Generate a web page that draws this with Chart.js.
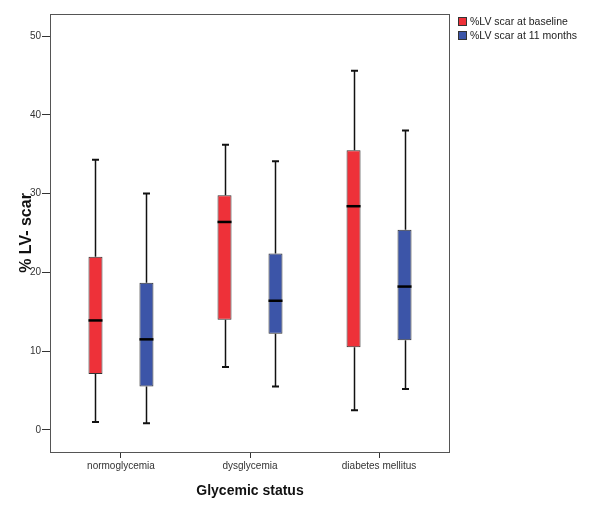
<!DOCTYPE html>
<html lang="en">
<head>
<meta charset="UTF-8">
<title>%LV scar by glycemic status</title>
<script src="https://cdn.jsdelivr.net/npm/chart.js"></script>
<style>
  html, body { margin: 0; padding: 0; background: #fff; }
</style>
</head>
<body>
<canvas id="boxChart" width="600" height="520"></canvas>
<script>
// categories and series
const groups = ['normoglycemia', 'dysglycemia', 'diabetes mellitus'];
const seriesNames = ['%LV scar at baseline', '%LV scar at 11 months'];

// five-number summaries
const baseMin = [1.0, 8.0, 2.5];
const baseQ1 = [7.1, 14.0, 10.5];
const baseMed = [13.9, 26.4, 28.4];
const baseQ3 = [22.0, 29.8, 35.5];
const baseMax = [34.3, 36.2, 45.6];

const monthMin = [0.85, 5.5, 5.2];
const monthQ1 = [5.5, 12.2, 11.4];
const monthMed = [11.5, 16.4, 18.2];
const monthQ3 = [18.7, 22.4, 25.4];
const monthMax = [30.0, 34.1, 38.0];

const yTicks = [0, 10, 20, 30, 40, 50];
const xTicks = [0, 1, 2];

const colors = ['#ee3139', '#3c55a8'];
const stats = [
    { min: baseMin, q1: baseQ1, med: baseMed, q3: baseQ3, max: baseMax },
    { min: monthMin, q1: monthQ1, med: monthMed, q3: monthQ3, max: monthMax }
];

function boxData(s) {
    return groups.map((g, i) => ({ x: i, y: [s.q1[i], s.q3[i]] }));
}

// whiskers, caps and medians drawn with the chart's own scales
const boxParts = {
    id: 'boxParts',
    beforeDatasetsDraw(chart) {
        const ctx = chart.ctx;
        const y = chart.scales.y;
        ctx.save();
        // frame round the plot
        const a = chart.chartArea;
        ctx.strokeStyle = '#555';
        ctx.lineWidth = 1;
        ctx.strokeRect(a.left + 0.5, a.top + 0.5, a.right - a.left - 1, a.bottom - a.top);
        ctx.strokeStyle = '#111';
        stats.forEach((s, d) => {
            chart.getDatasetMeta(d).data.forEach((bar, i) => {
                const x = Math.round(bar.x) + 0.5;
                ctx.lineWidth = 1.5;
                ctx.beginPath();
                ctx.moveTo(x, y.getPixelForValue(s.max[i]));
                ctx.lineTo(x, y.getPixelForValue(s.q3[i]));
                ctx.moveTo(x, y.getPixelForValue(s.q1[i]));
                ctx.lineTo(x, y.getPixelForValue(s.min[i]));
                ctx.stroke();
                ctx.lineWidth = 2;
                ctx.beginPath();
                [s.max[i], s.min[i]].forEach(v => {
                    const py = y.getPixelForValue(v);
                    ctx.moveTo(x - 3.5, py);
                    ctx.lineTo(x + 3.5, py);
                });
                ctx.stroke();
            });
        });
        ctx.restore();
    },
    afterDatasetsDraw(chart) {
        const ctx = chart.ctx;
        const y = chart.scales.y;
        ctx.save();
        ctx.strokeStyle = '#000';
        ctx.lineWidth = 2.5;
        stats.forEach((s, d) => {
            chart.getDatasetMeta(d).data.forEach((bar, i) => {
                const py = y.getPixelForValue(s.med[i]);
                ctx.beginPath();
                ctx.moveTo(bar.x - bar.width / 2, py);
                ctx.lineTo(bar.x + bar.width / 2, py);
                ctx.stroke();
            });
        });
        ctx.restore();
    },
    afterDraw(chart) {
        // legend at the top right, outside the frame
        const ctx = chart.ctx;
        const a = chart.chartArea;
        ctx.save();
        ctx.font = '10.5px "Liberation Sans", Arial, sans-serif';
        ctx.textBaseline = 'middle';
        chart.data.datasets.forEach((ds, d) => {
            const lx = a.right + 8;
            const ly = 17 + d * 14;
            ctx.fillStyle = ds.backgroundColor;
            ctx.fillRect(lx, ly, 9, 9);
            ctx.strokeStyle = '#333';
            ctx.lineWidth = 1;
            ctx.strokeRect(lx + 0.5, ly + 0.5, 8, 8);
            ctx.fillStyle = '#222';
            ctx.fillText(ds.label, lx + 12, ly + 5);
        });
        ctx.restore();
    }
};

new Chart(document.getElementById('boxChart'), {
    type: 'bar',
    data: {
        datasets: stats.map((s, d) => ({
            label: seriesNames[d],
            data: boxData(s),
            backgroundColor: colors[d],
            borderColor: '#333',
            borderWidth: 1,
            borderSkipped: false,
            categoryPercentage: 0.79,
            barPercentage: 0.275
        }))
    },
    options: {
        responsive: false,
        animation: false,
        devicePixelRatio: 1,
        layout: { padding: { left: 0, top: 14, right: 150, bottom: 0 } },
        plugins: { legend: { display: false }, tooltip: { enabled: false } },
        scales: {
            x: {
                type: 'linear',
                offset: false,
                min: -0.55,
                max: 2.55,
                afterBuildTicks: sc => { sc.ticks = xTicks.map(v => ({ value: v })); },
                afterFit: sc => { sc.height = 68; },
                ticks: {
                    callback: v => groups[v],
                    font: { family: '"Liberation Sans", Arial, sans-serif', size: 10 },
                    color: '#333',
                    padding: 2,
                    maxRotation: 0
                },
                grid: { offset: false, drawOnChartArea: false, drawTicks: true, tickLength: 6, color: '#333' },
                border: { display: false },
                title: {
                    display: true,
                    text: 'Glycemic status',
                    font: { family: '"Liberation Sans", Arial, sans-serif', size: 14, weight: 'bold' },
                    color: '#111',
                    padding: { top: 0, bottom: 20 }
                }
            },
            y: {
                min: -2.8,
                max: 52.8,
                afterBuildTicks: sc => { sc.ticks = yTicks.map(v => ({ value: v })); },
                afterFit: sc => { sc.width = 50; },
                ticks: {
                    font: { family: '"Liberation Sans", Arial, sans-serif', size: 10 },
                    color: '#333',
                    padding: 1
                },
                grid: { drawOnChartArea: false, drawTicks: true, tickLength: 8, color: '#333' },
                border: { display: false },
                title: {
                    display: true,
                    text: '% LV- scar',
                    font: { family: '"Liberation Sans", Arial, sans-serif', size: 16, weight: 'bold' },
                    color: '#111',
                    padding: { top: 17, bottom: 0 }
                }
            }
        }
    },
    plugins: [boxParts]
});
</script>
</body>
</html>
